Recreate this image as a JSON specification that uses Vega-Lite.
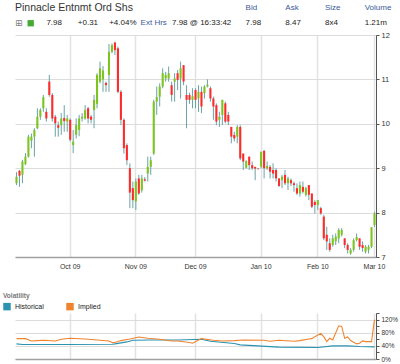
{
  "$schema": "https://vega.github.io/schema/vega-lite/v6.json",
  "padding": {"left": 3, "top": 0, "right": 0, "bottom": 0},
  "background": "#ffffff",
  "config": {
    "view": {"stroke": null},
    "font": "Liberation Sans",
    "axis": {"labelFont": "Liberation Sans", "labelColor": "#333333"},
    "legend": {"labelFont": "Liberation Sans", "titleFont": "Liberation Sans"}
  },
  "resolve": {"scale": {"color": "independent"}, "legend": {"color": "independent"}},
  "datasets": {
    "headLeft": [
      {"row": "r1", "col": "sym", "text": "Pinnacle Entnmt Ord Shs", "kind": "title"},
      {"row": "r2", "col": "sym", "text": "⊞", "kind": "icon"},
      {"row": "r2", "col": "sym", "text": "", "kind": "up"},
      {"row": "r2", "col": "last", "text": "7.98", "kind": "value"},
      {"row": "r2", "col": "chg", "text": "+0.31", "kind": "value"},
      {"row": "r2", "col": "pct", "text": "+4.04%", "kind": "value"},
      {"row": "r2", "col": "ext", "text": "Ext Hrs", "kind": "link"},
      {"row": "r2", "col": "time", "text": "7.98 @ 16:33:42", "kind": "value"}
    ],
    "headRight": [
      {"row": "r1", "col": "Bid", "text": "Bid", "kind": "link"},
      {"row": "r1", "col": "Ask", "text": "Ask", "kind": "link"},
      {"row": "r1", "col": "Size", "text": "Size", "kind": "link"},
      {"row": "r1", "col": "Volume", "text": "Volume", "kind": "link"},
      {"row": "r2", "col": "Bid", "text": "7.98", "kind": "value"},
      {"row": "r2", "col": "Ask", "text": "8.47", "kind": "value"},
      {"row": "r2", "col": "Size", "text": "8x4", "kind": "value"},
      {"row": "r2", "col": "Volume", "text": "1.21m", "kind": "value"}
    ],
    "ohlc": [
      {"date": "2009-09-04", "open": 8.66, "high": 8.91, "low": 8.62, "close": 8.81},
      {"date": "2009-09-08", "open": 8.94, "high": 8.96, "low": 8.58, "close": 8.83},
      {"date": "2009-09-09", "open": 8.85, "high": 9.19, "low": 8.66, "close": 9.15},
      {"date": "2009-09-10", "open": 9.09, "high": 9.34, "low": 9.07, "close": 9.26},
      {"date": "2009-09-11", "open": 9.26, "high": 9.75, "low": 9.24, "close": 9.71},
      {"date": "2009-09-14", "open": 9.62, "high": 9.78, "low": 9.45, "close": 9.71},
      {"date": "2009-09-15", "open": 9.71, "high": 9.90, "low": 9.26, "close": 9.86},
      {"date": "2009-09-16", "open": 9.90, "high": 10.35, "low": 9.88, "close": 10.16},
      {"date": "2009-09-17", "open": 10.16, "high": 10.35, "low": 10.09, "close": 10.31},
      {"date": "2009-09-18", "open": 10.35, "high": 10.65, "low": 10.27, "close": 10.60},
      {"date": "2009-09-21", "open": 10.27, "high": 10.35, "low": 10.05, "close": 10.12},
      {"date": "2009-09-22", "open": 10.95, "high": 11.10, "low": 10.61, "close": 10.65},
      {"date": "2009-09-23", "open": 10.65, "high": 10.69, "low": 10.05, "close": 10.12},
      {"date": "2009-09-24", "open": 10.16, "high": 10.20, "low": 9.71, "close": 10.01},
      {"date": "2009-09-25", "open": 9.97, "high": 10.05, "low": 9.71, "close": 9.91},
      {"date": "2009-09-28", "open": 9.97, "high": 10.24, "low": 9.75, "close": 10.12},
      {"date": "2009-09-29", "open": 10.13, "high": 10.42, "low": 9.82, "close": 10.06},
      {"date": "2009-09-30", "open": 10.05, "high": 10.20, "low": 9.82, "close": 10.12},
      {"date": "2009-10-01", "open": 10.09, "high": 10.12, "low": 9.60, "close": 9.64},
      {"date": "2009-10-02", "open": 9.52, "high": 9.86, "low": 9.34, "close": 9.60},
      {"date": "2009-10-05", "open": 9.75, "high": 10.12, "low": 9.67, "close": 9.97},
      {"date": "2009-10-06", "open": 9.86, "high": 10.20, "low": 9.72, "close": 10.12},
      {"date": "2009-10-07", "open": 10.12, "high": 10.24, "low": 10.05, "close": 10.16},
      {"date": "2009-10-08", "open": 10.12, "high": 10.42, "low": 10.09, "close": 10.31},
      {"date": "2009-10-09", "open": 10.35, "high": 10.38, "low": 10.01, "close": 10.12},
      {"date": "2009-10-12", "open": 10.16, "high": 10.20, "low": 10.01, "close": 10.09},
      {"date": "2009-10-13", "open": 10.31, "high": 10.65, "low": 9.90, "close": 10.54},
      {"date": "2009-10-14", "open": 10.45, "high": 11.14, "low": 10.35, "close": 11.10},
      {"date": "2009-10-15", "open": 10.95, "high": 11.40, "low": 10.91, "close": 11.25},
      {"date": "2009-10-16", "open": 11.00, "high": 11.30, "low": 10.72, "close": 11.20},
      {"date": "2009-10-19", "open": 10.92, "high": 10.95, "low": 10.72, "close": 10.87},
      {"date": "2009-10-20", "open": 11.10, "high": 11.80, "low": 10.72, "close": 11.62},
      {"date": "2009-10-21", "open": 11.62, "high": 11.81, "low": 11.59, "close": 11.77},
      {"date": "2009-10-22", "open": 11.83, "high": 11.85, "low": 11.55, "close": 11.66},
      {"date": "2009-10-23", "open": 11.70, "high": 11.74, "low": 10.69, "close": 10.72},
      {"date": "2009-10-26", "open": 10.72, "high": 10.76, "low": 9.97, "close": 10.09},
      {"date": "2009-10-27", "open": 10.09, "high": 10.12, "low": 9.33, "close": 9.45},
      {"date": "2009-10-28", "open": 9.52, "high": 9.56, "low": 9.07, "close": 9.18},
      {"date": "2009-10-29", "open": 9.00, "high": 9.11, "low": 8.10, "close": 8.45},
      {"date": "2009-10-30", "open": 8.55, "high": 8.70, "low": 8.10, "close": 8.28},
      {"date": "2009-11-02", "open": 8.25, "high": 8.77, "low": 8.06, "close": 8.70},
      {"date": "2009-11-03", "open": 8.77, "high": 8.85, "low": 8.40, "close": 8.43},
      {"date": "2009-11-04", "open": 8.50, "high": 8.85, "low": 8.45, "close": 8.77},
      {"date": "2009-11-05", "open": 8.75, "high": 8.80, "low": 8.70, "close": 8.72},
      {"date": "2009-11-06", "open": 8.88, "high": 9.26, "low": 8.70, "close": 9.03},
      {"date": "2009-11-09", "open": 9.03, "high": 9.26, "low": 8.85, "close": 9.18},
      {"date": "2009-11-10", "open": 9.33, "high": 10.54, "low": 9.30, "close": 10.50},
      {"date": "2009-11-11", "open": 10.50, "high": 10.84, "low": 10.20, "close": 10.60},
      {"date": "2009-11-12", "open": 10.61, "high": 10.91, "low": 10.39, "close": 10.84},
      {"date": "2009-11-13", "open": 10.84, "high": 11.25, "low": 10.80, "close": 11.14},
      {"date": "2009-11-16", "open": 11.02, "high": 11.17, "low": 10.95, "close": 11.10},
      {"date": "2009-11-17", "open": 11.02, "high": 11.29, "low": 10.95, "close": 11.14},
      {"date": "2009-11-18", "open": 10.87, "high": 10.95, "low": 10.50, "close": 10.65},
      {"date": "2009-11-19", "open": 10.95, "high": 11.14, "low": 10.50, "close": 11.02},
      {"date": "2009-11-20", "open": 11.14, "high": 11.21, "low": 10.76, "close": 10.99},
      {"date": "2009-11-23", "open": 11.02, "high": 11.40, "low": 10.57, "close": 11.25},
      {"date": "2009-11-24", "open": 11.32, "high": 11.32, "low": 10.87, "close": 10.95},
      {"date": "2009-11-25", "open": 10.65, "high": 10.87, "low": 9.90, "close": 10.54},
      {"date": "2009-11-27", "open": 10.65, "high": 10.70, "low": 10.45, "close": 10.54},
      {"date": "2009-11-30", "open": 10.54, "high": 10.80, "low": 10.35, "close": 10.62},
      {"date": "2009-12-01", "open": 10.76, "high": 10.80, "low": 10.35, "close": 10.54},
      {"date": "2009-12-02", "open": 10.57, "high": 10.87, "low": 10.27, "close": 10.72},
      {"date": "2009-12-03", "open": 10.72, "high": 10.84, "low": 10.24, "close": 10.39},
      {"date": "2009-12-04", "open": 10.69, "high": 10.87, "low": 10.57, "close": 10.84},
      {"date": "2009-12-07", "open": 10.84, "high": 11.00, "low": 10.82, "close": 10.88},
      {"date": "2009-12-08", "open": 10.80, "high": 10.84, "low": 10.50, "close": 10.57},
      {"date": "2009-12-09", "open": 10.57, "high": 10.61, "low": 10.09, "close": 10.39},
      {"date": "2009-12-10", "open": 10.42, "high": 10.46, "low": 9.97, "close": 10.05},
      {"date": "2009-12-11", "open": 10.09, "high": 10.27, "low": 9.93, "close": 10.16},
      {"date": "2009-12-14", "open": 10.20, "high": 10.54, "low": 9.97, "close": 10.54},
      {"date": "2009-12-15", "open": 10.46, "high": 10.50, "low": 10.01, "close": 10.05},
      {"date": "2009-12-16", "open": 10.20, "high": 10.27, "low": 9.97, "close": 10.05},
      {"date": "2009-12-17", "open": 9.93, "high": 9.93, "low": 9.56, "close": 9.71},
      {"date": "2009-12-18", "open": 9.75, "high": 9.82, "low": 9.60, "close": 9.67},
      {"date": "2009-12-21", "open": 9.71, "high": 9.97, "low": 9.56, "close": 9.93},
      {"date": "2009-12-22", "open": 9.93, "high": 9.97, "low": 9.18, "close": 9.22},
      {"date": "2009-12-23", "open": 9.33, "high": 9.33, "low": 8.96, "close": 9.15},
      {"date": "2009-12-24", "open": 9.01, "high": 9.18, "low": 8.99, "close": 9.16},
      {"date": "2009-12-28", "open": 9.26, "high": 9.26, "low": 8.96, "close": 9.07},
      {"date": "2009-12-29", "open": 9.07, "high": 9.15, "low": 8.96, "close": 9.00},
      {"date": "2009-12-30", "open": 9.03, "high": 9.03, "low": 8.73, "close": 8.99},
      {"date": "2009-12-31", "open": 8.99, "high": 9.00, "low": 8.97, "close": 8.98},
      {"date": "2010-01-04", "open": 9.03, "high": 9.37, "low": 9.00, "close": 9.37},
      {"date": "2010-01-05", "open": 9.39, "high": 9.41, "low": 8.77, "close": 9.00},
      {"date": "2010-01-06", "open": 9.00, "high": 9.15, "low": 8.96, "close": 9.05},
      {"date": "2010-01-07", "open": 9.03, "high": 9.07, "low": 8.77, "close": 8.92},
      {"date": "2010-01-08", "open": 8.96, "high": 9.11, "low": 8.77, "close": 8.88},
      {"date": "2010-01-11", "open": 8.96, "high": 9.00, "low": 8.70, "close": 8.77},
      {"date": "2010-01-12", "open": 8.77, "high": 8.77, "low": 8.58, "close": 8.60},
      {"date": "2010-01-13", "open": 8.73, "high": 8.85, "low": 8.55, "close": 8.81},
      {"date": "2010-01-14", "open": 8.85, "high": 8.96, "low": 8.62, "close": 8.66},
      {"date": "2010-01-15", "open": 8.66, "high": 8.81, "low": 8.51, "close": 8.77},
      {"date": "2010-01-19", "open": 8.73, "high": 8.77, "low": 8.60, "close": 8.66},
      {"date": "2010-01-20", "open": 8.66, "high": 8.70, "low": 8.47, "close": 8.62},
      {"date": "2010-01-21", "open": 8.55, "high": 8.66, "low": 8.40, "close": 8.43},
      {"date": "2010-01-22", "open": 8.43, "high": 8.70, "low": 8.36, "close": 8.62},
      {"date": "2010-01-25", "open": 8.58, "high": 8.70, "low": 8.43, "close": 8.47},
      {"date": "2010-01-26", "open": 8.40, "high": 8.58, "low": 8.36, "close": 8.55},
      {"date": "2010-01-27", "open": 8.62, "high": 8.62, "low": 8.28, "close": 8.40},
      {"date": "2010-01-28", "open": 8.43, "high": 8.43, "low": 8.10, "close": 8.13},
      {"date": "2010-01-29", "open": 8.24, "high": 8.28, "low": 7.98, "close": 8.17},
      {"date": "2010-02-01", "open": 8.17, "high": 8.28, "low": 8.06, "close": 8.28},
      {"date": "2010-02-02", "open": 8.10, "high": 8.13, "low": 7.95, "close": 7.98},
      {"date": "2010-02-03", "open": 7.91, "high": 7.95, "low": 7.38, "close": 7.42},
      {"date": "2010-02-04", "open": 7.50, "high": 7.68, "low": 7.16, "close": 7.35},
      {"date": "2010-02-05", "open": 7.31, "high": 7.42, "low": 7.12, "close": 7.16},
      {"date": "2010-02-08", "open": 7.27, "high": 7.50, "low": 7.23, "close": 7.42},
      {"date": "2010-02-09", "open": 7.35, "high": 7.53, "low": 7.27, "close": 7.46},
      {"date": "2010-02-10", "open": 7.42, "high": 7.65, "low": 7.31, "close": 7.61},
      {"date": "2010-02-11", "open": 7.50, "high": 7.65, "low": 7.46, "close": 7.61},
      {"date": "2010-02-12", "open": 7.42, "high": 7.42, "low": 7.20, "close": 7.27},
      {"date": "2010-02-16", "open": 7.27, "high": 7.31, "low": 7.08, "close": 7.16},
      {"date": "2010-02-17", "open": 7.08, "high": 7.20, "low": 7.05, "close": 7.16},
      {"date": "2010-02-18", "open": 7.16, "high": 7.42, "low": 7.12, "close": 7.38},
      {"date": "2010-02-19", "open": 7.38, "high": 7.53, "low": 7.35, "close": 7.45},
      {"date": "2010-02-22", "open": 7.42, "high": 7.42, "low": 7.16, "close": 7.23},
      {"date": "2010-02-23", "open": 7.27, "high": 7.35, "low": 7.12, "close": 7.20},
      {"date": "2010-02-24", "open": 7.12, "high": 7.27, "low": 7.08, "close": 7.23},
      {"date": "2010-02-25", "open": 7.16, "high": 7.27, "low": 7.08, "close": 7.23},
      {"date": "2010-02-26", "open": 7.23, "high": 7.67, "low": 7.20, "close": 7.67},
      {"date": "2010-03-01", "open": 7.72, "high": 8.02, "low": 7.68, "close": 7.98}
    ],
    "vol": [
      {"date": "2009-09-04", "series": "Historical", "value": 0.46},
      {"date": "2009-09-09", "series": "Historical", "value": 0.44},
      {"date": "2009-09-16", "series": "Historical", "value": 0.44},
      {"date": "2009-09-30", "series": "Historical", "value": 0.44},
      {"date": "2009-10-21", "series": "Historical", "value": 0.45},
      {"date": "2009-10-22", "series": "Historical", "value": 0.46},
      {"date": "2009-10-28", "series": "Historical", "value": 0.52},
      {"date": "2009-10-30", "series": "Historical", "value": 0.57},
      {"date": "2009-11-09", "series": "Historical", "value": 0.58},
      {"date": "2009-11-20", "series": "Historical", "value": 0.58},
      {"date": "2009-12-03", "series": "Historical", "value": 0.60},
      {"date": "2009-12-08", "series": "Historical", "value": 0.54},
      {"date": "2009-12-18", "series": "Historical", "value": 0.47},
      {"date": "2009-12-22", "series": "Historical", "value": 0.43},
      {"date": "2010-01-12", "series": "Historical", "value": 0.36},
      {"date": "2010-02-01", "series": "Historical", "value": 0.35},
      {"date": "2010-02-08", "series": "Historical", "value": 0.40},
      {"date": "2010-02-16", "series": "Historical", "value": 0.40},
      {"date": "2010-02-22", "series": "Historical", "value": 0.38},
      {"date": "2010-03-01", "series": "Historical", "value": 0.37},
      {"date": "2009-09-04", "series": "Implied", "value": 0.62},
      {"date": "2009-09-10", "series": "Implied", "value": 0.62},
      {"date": "2009-09-14", "series": "Implied", "value": 0.55},
      {"date": "2009-09-16", "series": "Implied", "value": 0.56},
      {"date": "2009-09-18", "series": "Implied", "value": 0.57},
      {"date": "2009-09-24", "series": "Implied", "value": 0.55},
      {"date": "2009-09-28", "series": "Implied", "value": 0.60},
      {"date": "2009-10-01", "series": "Implied", "value": 0.63},
      {"date": "2009-10-08", "series": "Implied", "value": 0.61},
      {"date": "2009-10-14", "series": "Implied", "value": 0.58},
      {"date": "2009-10-20", "series": "Implied", "value": 0.55},
      {"date": "2009-10-21", "series": "Implied", "value": 0.50},
      {"date": "2009-10-22", "series": "Implied", "value": 0.50},
      {"date": "2009-10-26", "series": "Implied", "value": 0.56},
      {"date": "2009-10-29", "series": "Implied", "value": 0.61},
      {"date": "2009-11-03", "series": "Implied", "value": 0.67},
      {"date": "2009-11-06", "series": "Implied", "value": 0.63},
      {"date": "2009-11-12", "series": "Implied", "value": 0.60},
      {"date": "2009-11-18", "series": "Implied", "value": 0.55},
      {"date": "2009-11-20", "series": "Implied", "value": 0.55},
      {"date": "2009-11-27", "series": "Implied", "value": 0.50},
      {"date": "2009-11-30", "series": "Implied", "value": 0.48},
      {"date": "2009-12-03", "series": "Implied", "value": 0.62},
      {"date": "2009-12-09", "series": "Implied", "value": 0.57},
      {"date": "2009-12-14", "series": "Implied", "value": 0.55},
      {"date": "2009-12-18", "series": "Implied", "value": 0.56},
      {"date": "2009-12-23", "series": "Implied", "value": 0.58},
      {"date": "2010-01-05", "series": "Implied", "value": 0.57},
      {"date": "2010-01-07", "series": "Implied", "value": 0.54},
      {"date": "2010-01-12", "series": "Implied", "value": 0.57},
      {"date": "2010-01-20", "series": "Implied", "value": 0.54},
      {"date": "2010-01-22", "series": "Implied", "value": 0.56},
      {"date": "2010-01-27", "series": "Implied", "value": 0.61},
      {"date": "2010-01-28", "series": "Implied", "value": 0.62},
      {"date": "2010-01-29", "series": "Implied", "value": 0.68},
      {"date": "2010-02-02", "series": "Implied", "value": 0.78},
      {"date": "2010-02-03", "series": "Implied", "value": 0.68},
      {"date": "2010-02-04", "series": "Implied", "value": 0.53},
      {"date": "2010-02-05", "series": "Implied", "value": 0.63},
      {"date": "2010-02-08", "series": "Implied", "value": 0.58},
      {"date": "2010-02-10", "series": "Implied", "value": 1.01},
      {"date": "2010-02-11", "series": "Implied", "value": 0.99},
      {"date": "2010-02-12", "series": "Implied", "value": 0.63},
      {"date": "2010-02-16", "series": "Implied", "value": 0.67},
      {"date": "2010-02-17", "series": "Implied", "value": 0.56},
      {"date": "2010-02-19", "series": "Implied", "value": 0.46},
      {"date": "2010-02-22", "series": "Implied", "value": 0.48},
      {"date": "2010-02-23", "series": "Implied", "value": 0.55},
      {"date": "2010-02-24", "series": "Implied", "value": 0.53},
      {"date": "2010-02-25", "series": "Implied", "value": 0.53},
      {"date": "2010-02-26", "series": "Implied", "value": 0.53},
      {"date": "2010-03-01", "series": "Implied", "value": 1.20}
    ]
  },
  "spacing": 0,
  "vconcat": [
    {
      "spacing": 41.6,
      "bounds": "flush",
      "resolve": {"scale": {"color": "independent"}, "legend": {"color": "independent"}},
      "hconcat": [
        {
          "width": 188.4,
          "height": 31,
          "data": {"name": "headLeft"},
          "encoding": {
            "x": {"field": "col", "type": "nominal", "bandPosition": 0, "scale": {"type": "band", "domain": ["sym", "last", "chg", "pct", "ext", "time"], "paddingInner": 0, "paddingOuter": 0}, "axis": null},
            "y": {"field": "row", "type": "nominal", "bandPosition": 0.5, "scale": {"type": "band", "domain": ["r1", "r2"], "paddingInner": 0, "paddingOuter": 0}, "axis": null},
            "color": {"field": "kind", "type": "nominal", "scale": {"domain": ["title", "icon", "value", "link", "up"], "range": ["#333333", "#808080", "#222222", "#3a5a9a", "#44aa33"]}, "legend": null}
          },
          "layer": [
            {
              "transform": [{"filter": "datum.kind === 'title'"}],
              "mark": {"type": "text", "align": "left", "baseline": "middle", "fontSize": 10.5},
              "encoding": {"text": {"field": "text"}}
            },
            {
              "transform": [{"filter": "datum.kind === 'icon'"}],
              "mark": {"type": "text", "align": "left", "baseline": "middle", "fontSize": 9, "font": "DejaVu Sans"},
              "encoding": {"text": {"field": "text"}}
            },
            {
              "transform": [{"filter": "datum.kind === 'value' || datum.kind === 'link'"}],
              "mark": {"type": "text", "align": "left", "baseline": "middle", "fontSize": 8},
              "encoding": {"text": {"field": "text"}}
            },
            {
              "transform": [{"filter": "datum.kind === 'up'"}],
              "mark": {"type": "square", "size": 40, "filled": true, "opacity": 1},
              "encoding": {"x": {"field": "col", "type": "nominal", "bandPosition": 0.5}}
            }
          ]
        },
        {
          "width": 158.8,
          "height": 31,
          "data": {"name": "headRight"},
          "mark": {"type": "text", "align": "left", "baseline": "middle", "fontSize": 8},
          "encoding": {
            "x": {"field": "col", "type": "nominal", "bandPosition": 0, "scale": {"type": "band", "domain": ["Bid", "Ask", "Size", "Volume"], "paddingInner": 0, "paddingOuter": 0}, "axis": null},
            "y": {"field": "row", "type": "nominal", "bandPosition": 0.5, "scale": {"type": "band", "domain": ["r1", "r2"], "paddingInner": 0, "paddingOuter": 0}, "axis": null},
            "color": {"field": "kind", "type": "nominal", "scale": {"domain": ["value", "link"], "range": ["#222222", "#3a5a9a"]}, "legend": null},
            "text": {"field": "text"}
          }
        }
      ]
    },
    {
      "spacing": 56,
      "bounds": "flush",
      "resolve": {"scale": {"x": "shared", "color": "independent"}, "legend": {"color": "independent"}},
      "vconcat": [
        {
          "width": 361,
          "height": 222,
          "data": {"name": "ohlc"},
          "layer": [
            {
              "mark": {"type": "rule", "color": "#6aa2a4", "strokeWidth": 1},
              "encoding": {
                "x": {
                  "field": "date", "type": "ordinal", "bandPosition": 0.5,
                  "scale": {"type": "band", "paddingInner": 0, "paddingOuter": 0},
                  "axis": {
                    "values": ["2009-10-01", "2009-11-02", "2009-12-01", "2010-01-04", "2010-02-01", "2010-03-01"],
                    "labelExpr": "utcFormat(toDate(datum.value), '%b %y')",
                    "title": null, "grid": true, "gridColor": "#e2e2e2", "gridWidth": 1.5,
                    "ticks": false, "domainColor": "#a0a0a0", "domainWidth": 1.5,
                    "labelFontSize": 7, "labelPadding": 5, "labelAngle": 0, "bandPosition": 0.5
                  }
                },
                "y": {
                  "field": "low", "type": "quantitative",
                  "scale": {"domain": [7, 12], "nice": false, "zero": false},
                  "axis": {
                    "orient": "right", "title": null,
                    "values": [7, 7.5, 8, 8.5, 9, 9.5, 10, 10.5, 11, 11.5, 12],
                    "labelExpr": "datum.value % 1 === 0 ? datum.label : ''",
                    "grid": true, "gridColor": "#dcdcdc",
                    "gridOpacity": {"condition": {"test": "datum.value % 1 !== 0", "value": 0}, "value": 1},
                    "tickColor": "#555555", "tickSize": 3, "domainColor": "#555555",
                    "labelFontSize": 7.5, "labelPadding": 2
                  }
                },
                "y2": {"field": "high"}
              }
            },
            {
              "mark": {"type": "bar", "width": {"band": 0.7}},
              "encoding": {
                "x": {"field": "date", "type": "ordinal"},
                "y": {"field": "open", "type": "quantitative"},
                "y2": {"field": "close"},
                "color": {"condition": {"test": "datum.close >= datum.open", "value": "#7cc520"}, "value": "#ff2a2a"}
              }
            }
          ]
        },
        {
          "width": 361,
          "height": 46,
          "data": {"name": "vol"},
          "mark": {"type": "line", "strokeWidth": 1.1},
          "encoding": {
            "x": {
              "field": "date", "type": "ordinal", "bandPosition": 0.5,
              "scale": {"type": "band", "paddingInner": 0, "paddingOuter": 0},
              "axis": {
                "values": ["2009-10-01", "2009-11-02", "2009-12-01", "2010-01-04", "2010-02-01", "2010-03-01"],
                "labels": false, "ticks": false, "title": null,
                "grid": true, "gridColor": "#e2e2e2", "gridWidth": 1.5,
                "domainColor": "#a0a0a0", "domainWidth": 1.5, "bandPosition": 0.5
              }
            },
            "y": {
              "field": "value", "type": "quantitative",
              "scale": {"domain": [0, 1.4], "nice": false},
              "axis": {
                "orient": "right", "title": null,
                "values": [0, 0.2, 0.4, 0.6, 0.8, 1, 1.2, 1.4],
                "format": ".0%",
                "labelExpr": "round(datum.value * 10) % 4 === 0 ? datum.label : ''",
                "grid": true, "gridColor": "#dcdcdc",
                "gridOpacity": {"condition": {"test": "round(datum.value * 10) % 4 !== 0", "value": 0}, "value": 1},
                "tickColor": "#555555", "tickSize": 3, "domainColor": "#555555",
                "labelFontSize": 6.5, "labelPadding": 2
              }
            },
            "color": {
              "field": "series", "type": "nominal",
              "scale": {"domain": ["Historical", "Implied"], "range": ["#2a93b0", "#f0842e"]},
              "legend": {
                "orient": "none", "legendX": -12, "legendY": -20,
                "direction": "horizontal", "title": "Volatility",
                "titleFontSize": 6.5, "titleFontWeight": "bold", "titleColor": "#777777", "titlePadding": 3,
                "labelFontSize": 7, "labelColor": "#222222",
                "symbolType": "square", "symbolSize": 12, "symbolStrokeWidth": 4,
                "columnPadding": 16, "labelOffset": 4, "padding": 0
              }
            }
          }
        }
      ]
    }
  ]
}
